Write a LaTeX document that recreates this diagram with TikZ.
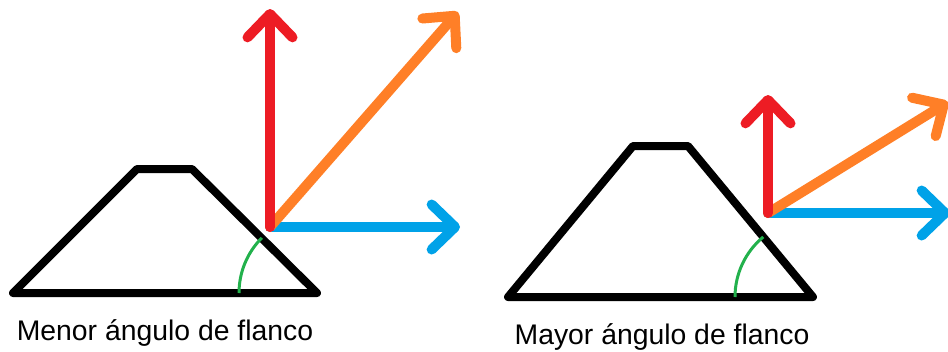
\documentclass[tikz,border=0pt]{standalone}
\usepackage{fontspec}
\setmainfont{Liberation Sans}
\definecolor{normalColor}{HTML}{ED1C24}
\definecolor{resultColor}{HTML}{FF7F27}
\definecolor{axialColor}{HTML}{00A2E8}
\definecolor{angleColor}{HTML}{22B14C}
\usetikzlibrary{arrows.meta, calc}

\begin{document}
\begin{tikzpicture}[x=0.03cm, y=-0.03cm, >={Straight Barb[length=0.7cm, width=1.35cm, round]},
        flank/.style={line width=0.24cm, line join=round, line cap=round},
        force/.style={line width=0.3cm, line cap=round, ->},
        angle/.style={draw=angleColor, line width=0.09cm},
        caption/.style={anchor=base, font=\fontsize{24.2}{29}\selectfont}]
        \useasboundingbox (0,0) rectangle (948,351);

        % Left thread: smaller flank angle
        \coordinate (lbl) at (13,293);
        \coordinate (lbr) at (317,293);
        \coordinate (ltr) at (192,169);
        \coordinate (ltl) at (137,169);
        \draw[flank] (lbl) -- (lbr) -- (ltr) -- (ltl) -- cycle;
        \draw[angle] ($(lbr)+(-78,0)$) arc[start angle=180, end angle=225, radius=78];

        \coordinate (lo) at (270,227);
        \coordinate (lred) at (270,9);
        \coordinate (lorange) at (458,12);
        \coordinate (lblue) at (460,227);
        \draw[force, axialColor] (lo) -- (lblue);
        \draw[force, resultColor] (lo) -- (lorange);
        \draw[force, normalColor] (lo) -- (lred);
        \node[caption] (menor) at (165,340) {Menor ángulo de flanco};

        % Right thread: larger flank angle
        \coordinate (rbl) at (508,297);
        \coordinate (rbr) at (813,297);
        \coordinate (rtr) at (688,146);
        \coordinate (rtl) at (633,146);
        \draw[flank] (rbl) -- (rbr) -- (rtr) -- (rtl) -- cycle;
        \draw[angle] ($(rbr)+(-78,0)$) arc[start angle=180, end angle=230.4, radius=78];

        \coordinate (ro) at (768,213);
        \coordinate (rred) at (768,95);
        \coordinate (rorange) at (948,102);
        \coordinate (rblue) at (950,213);
        \draw[force, axialColor] (ro) -- (rblue);
        \draw[force, resultColor] (ro) -- (rorange);
        \draw[force, normalColor] (ro) -- (rred);
        \node[caption] (mayor) at (662,344) {Mayor ángulo de flanco};
\end{tikzpicture}
\end{document}
